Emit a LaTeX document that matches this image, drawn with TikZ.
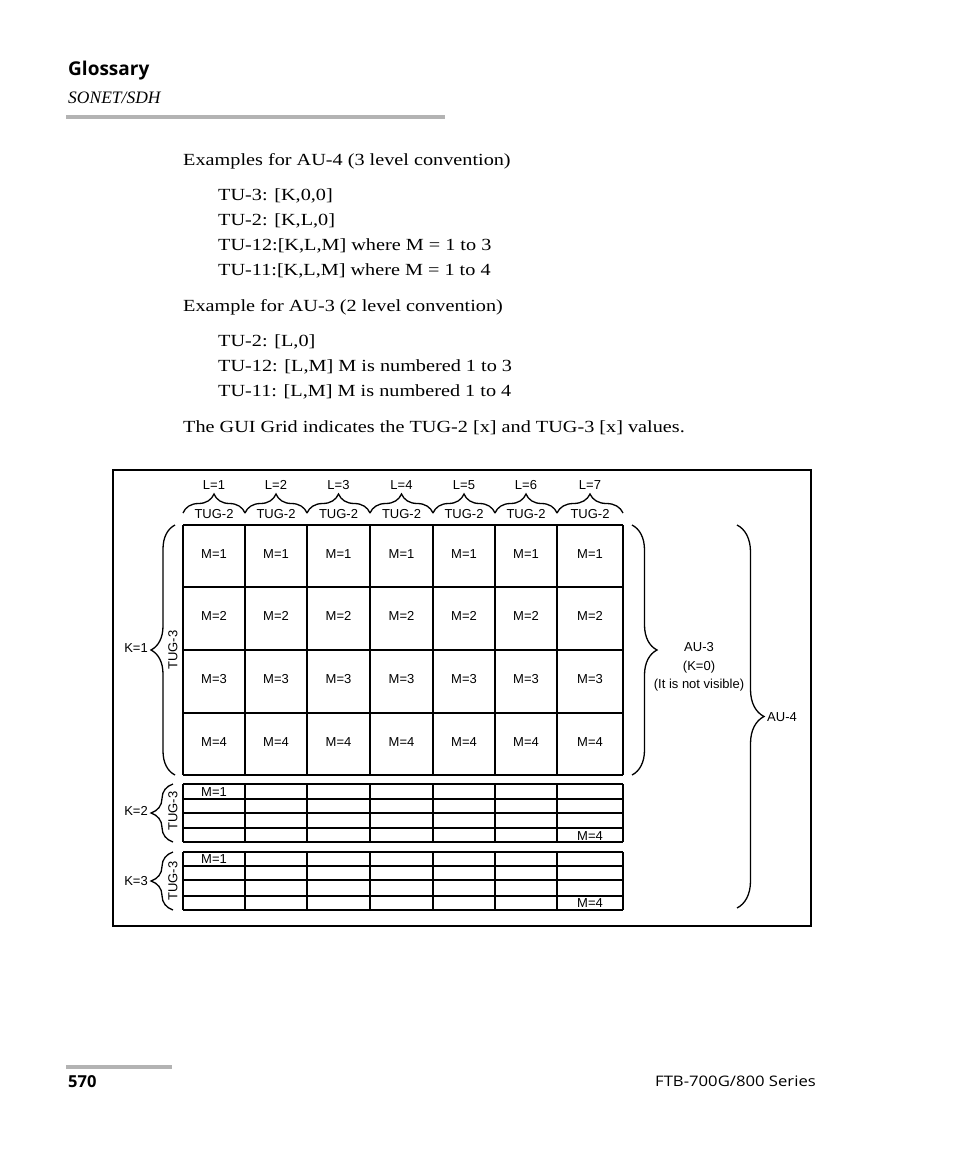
\documentclass[tikz,border=0pt]{standalone}
\usepackage{fontspec}
\setmainfont{Liberation Serif}
\newfontfamily\bodyfont[FakeStretch=1.19]{Liberation Serif}
\newfontfamily\headfont{Open Sans}
\newfontfamily\footfont[FakeStretch=1.15]{Open Sans}
\newfontfamily\figfont{Liberation Sans}
\usetikzlibrary{decorations.pathreplacing}
\begin{document}
\begin{tikzpicture}[x=1pt,y=-1pt,
  body/.style={anchor=base west, inner sep=0pt, font=\bodyfont\fontsize{17}{20}\selectfont},
  fig/.style={inner sep=0pt, font=\figfont\fontsize{13}{18.5}\selectfont},
  gridline/.style={line width=1.6pt},
  rule/.style={line width=4pt, draw={rgb,255:red,179;green,179;blue,179}},
  brc/.style={decorate, line width=1.3pt, decoration={brace, amplitude=#1}},
]
\useasboundingbox (0,0) rectangle (954,1159);
\fill[white] (0,0) rectangle (954,1159);

% header
\node[anchor=base west, inner sep=0pt, font=\headfont\bfseries\fontsize{19}{21}\selectfont] (gloss) at (68,75) {Glossary};
\node[anchor=base west, inner sep=0pt, font=\itshape\fontsize{17.5}{19}\selectfont] (sonet) at (68,103) {SONET/SDH};
\draw[rule] (66,117) -- (445,117);

% body text
\node[body] (t1) at (183,165) {Examples for AU-4 (3 level convention)};
\node[body] (t2) at (218,200) {TU-3: [K,0,0]};
\node[body] (t3) at (218,225) {TU-2: [K,L,0]};
\node[body] (t4) at (218,250) {TU-12:[K,L,M] where M = 1 to 3};
\node[body] (t5) at (218,275) {TU-11:[K,L,M] where M = 1 to 4};
\node[body] (t6) at (183,311) {Example for AU-3 (2 level convention)};
\node[body] (t7) at (218,346) {TU-2: [L,0]};
\node[body] (t8) at (218,371) {TU-12: [L,M] M is numbered 1 to 3};
\node[body] (t9) at (218,396) {TU-11: [L,M] M is numbered 1 to 4};
\node[body] (t10) at (183,432) {The GUI Grid indicates the TUG-2 [x] and TUG-3 [x] values.};

% figure frame
\draw[line width=2.8pt] (113,470) rectangle (811,926);

% main grid
\foreach \x in {183,245,307,370,433,495,557,623}
  \draw[gridline] (\x,525) -- (\x,775);
\foreach \y in {525,587,650,713,775}
  \draw[gridline] (183,\y) -- (623,\y);
% small grids
\foreach \x in {183,245,307,370,433,495,557,623} {
  \draw[gridline] (\x,784) -- (\x,842);
  \draw[gridline] (\x,852) -- (\x,910);
}
\foreach \y in {784,799,813,828,842,852,866,880,896,910}
  \draw[gridline] (183,\y) -- (623,\y);

% column labels and braces
\foreach \a/\b [count=\c] in {183/245,245/307,307/370,370/433,433/495,495/557,557/623} {
  \node[fig] (L\c) at ({(\a+\b)/2},485) {L=\c};
  \node[fig] (tugb\c) at ({(\a+\b)/2},514) {TUG-2};
  \draw[brc=19pt] (\a,513) -- (\b,513);
}

% cell labels
\foreach \x [count=\c] in {214,276,338.5,401.5,464,526,590}
  \foreach \y [count=\r] in {554,616,679,742}
    \node[fig] (m\c\r) at (\x,\y) {M=\r};
\node[fig] (s2a) at (214,792) {M=1};
\node[fig] (s2b) at (590,836) {M=4};
\node[fig] (s3a) at (214,859) {M=1};
\node[fig] (s3b) at (590,903) {M=4};

% K braces
\draw[brc=24pt] (175,775) -- (175,525);
\node[fig, anchor=east] (k1) at (148,648) {K=1};
\node[fig, rotate=90] (tug31) at (173,650) {TUG-3};
\draw[brc=22pt] (173,842) -- (173,784);
\node[fig, anchor=east] (k2) at (148,811) {K=2};
\node[fig, rotate=90] (tug32) at (173,811) {TUG-3};
\draw[brc=22pt] (173,910) -- (173,852);
\node[fig, anchor=east] (k3) at (148,881) {K=3};
\node[fig, rotate=90] (tug33) at (173,881) {TUG-3};

% AU braces
\draw[brc=25pt] (632,525) -- (632,775);
\node[fig, align=center] (au3) at (699,667) {AU-3\\(K=0)\\(It is not visible)};
\draw[brc=27pt] (737,525) -- (737,908);
\node[fig, anchor=west] (au4) at (767,717) {AU-4};

% footer
\draw[rule] (66,1067) -- (172,1067);
\node[anchor=base west, inner sep=0pt, font=\headfont\bfseries\fontsize{16.5}{18}\selectfont] (page) at (68,1087) {570};
\node[anchor=base east, inner sep=0pt, font=\footfont\fontsize{14.5}{16}\selectfont] (series) at (816,1086) {FTB-700G/800 Series};
\end{tikzpicture}
\end{document}
